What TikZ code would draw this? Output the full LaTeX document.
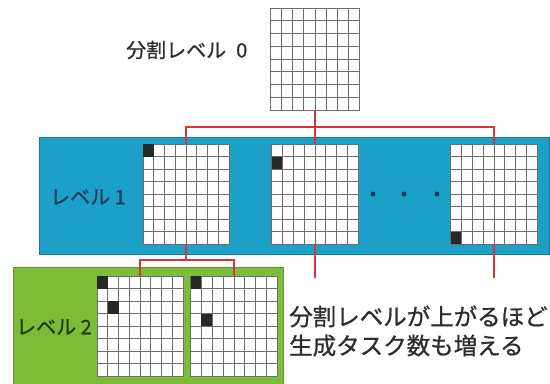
\documentclass[tikz,border=0pt]{standalone}
\usepackage{fontspec}
\setmainfont{Noto Sans CJK JP}[FakeBold=0.8]
\usetikzlibrary{calc}
\definecolor{gridc}{RGB}{110,110,110}
\definecolor{bluebar}{RGB}{28,160,200}
\definecolor{blueedge}{RGB}{20,120,155}
\definecolor{greenbar}{RGB}{124,188,54}
\definecolor{greenedge}{RGB}{95,150,40}
\definecolor{redc}{RGB}{214,52,62}
\definecolor{darkcell}{RGB}{40,40,40}
\definecolor{navytext}{RGB}{30,60,95}
\definecolor{greentext}{RGB}{35,60,15}
\definecolor{graytext}{RGB}{45,45,45}
\newcommand{\mydarkcell}[3]{%
  \fill[darkcell] let \p1=(#1.north west), \p2=(#1.south east) in
    ({\x1+#2*(\x2-\x1)/8},{\y1+#3*(\y2-\y1)/8}) rectangle
    ({\x1+(#2+1)*(\x2-\x1)/8},{\y1+(#3+1)*(\y2-\y1)/8});}
\tikzset{
  gridbox/.style={draw=gridc, line width=0.8bp, fill=white, inner sep=0pt, outer sep=0pt,
    path picture={
      \foreach \k in {1,...,7}{
        \draw[gridc,line width=0.8bp]
          ($(path picture bounding box.north west)!{\k/8}!(path picture bounding box.north east)$) --
          ($(path picture bounding box.south west)!{\k/8}!(path picture bounding box.south east)$);
        \draw[gridc,line width=0.8bp]
          ($(path picture bounding box.north west)!{\k/8}!(path picture bounding box.south west)$) --
          ($(path picture bounding box.north east)!{\k/8}!(path picture bounding box.south east)$);
      }}},
  redline/.style={draw=redc, line width=2bp},
  dotc/.style={circle, fill=navytext, inner sep=0pt, minimum size=5bp},
  lbl/.style={inner sep=0pt, font=\fontsize{20bp}{24bp}\selectfont}
}
\begin{document}
\begin{tikzpicture}[x=1bp,y=-1bp]
\useasboundingbox (0,0) rectangle (550,383);
% bands
\draw[fill=bluebar, draw=blueedge, line width=0.8bp] (39,137) rectangle (549,254);
\draw[fill=greenbar, draw=greenedge, line width=0.8bp] (13,267) rectangle (283,390);
% grids
\node[gridbox, minimum width=89bp, minimum height=102bp] (g0) at (315,59) {};
\node[gridbox, minimum width=86bp, minimum height=100bp] (l1a) at (186,194) {};
\node[gridbox, minimum width=87bp, minimum height=100bp] (l1b) at (315,194) {};
\node[gridbox, minimum width=87bp, minimum height=100bp] (l1c) at (494,194) {};
\node[gridbox, minimum width=86bp, minimum height=100bp] (l2a) at (140,326) {};
\node[gridbox, minimum width=87bp, minimum height=100bp] (l2b) at (234,326) {};
% dark cells
\mydarkcell{l1a}{0}{0}
\mydarkcell{l1b}{0}{1}
\mydarkcell{l1c}{0}{7}
\mydarkcell{l2a}{0}{0}
\mydarkcell{l2a}{1}{2}
\mydarkcell{l2b}{0}{0}
\mydarkcell{l2b}{1}{3}
% dots
\node[dotc] (d1) at (373,194) {};
\node[dotc] (d2) at (404,194) {};
\node[dotc] (d3) at (437,194) {};
% connectors
\coordinate (j0) at ($(g0.south)+(0,17)$);
\coordinate (j1) at ($(l1a.south)+(0,16)$);
\coordinate (e1) at ($(l1b.south)+(0,34)$);
\coordinate (e2) at ($(l1c.south)+(0,34)$);
\draw[redline] (g0.south) -- (j0);
\draw[redline] (j0) -| (l1a.north);
\draw[redline] (j0) -| (l1c.north);
\draw[redline] (j0) -- (l1b.north);
\draw[redline] (l1a.south) -- (j1);
\draw[redline] (j1) -| (l2a.north);
\draw[redline] (j1) -| (l2b.north);
\draw[redline] (l1b.south) -- (e1);
\draw[redline] (l1c.south) -- (e2);
% labels
\node[lbl, text=graytext, anchor=west] (t0) at (126,50) {分割レベル\hspace{10bp}0};
\node[lbl, text=navytext] (t1) at (88,197) {レベル 1};
\node[lbl, text=greentext] (t2) at (54,327) {レベル 2};
\node[inner sep=0pt, text=graytext, align=left, font=\fontsize{23.5bp}{29bp}\selectfont, anchor=west] (t3) at (289,331) {分割レベルが上がるほど\\生成タスク数も増える};
\end{tikzpicture}
\end{document}
